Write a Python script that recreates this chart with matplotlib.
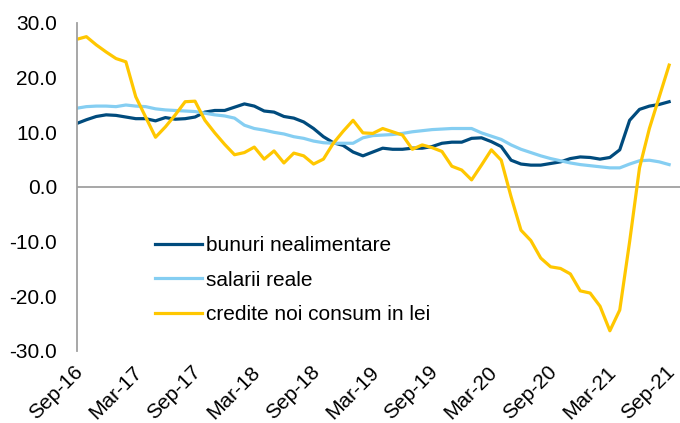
import matplotlib
matplotlib.use("Agg")
import matplotlib.pyplot as plt
import matplotlib.transforms as mtransforms
import numpy as np

plt.rcParams["font.family"] = ["Liberation Sans", "DejaVu Sans"]

# monthly, Sep-16 .. Sep-21
tick_labels = ["Sep-16", "Mar-17", "Sep-17", "Mar-18", "Sep-18", "Mar-19",
               "Sep-19", "Mar-20", "Sep-20", "Mar-21", "Sep-21"]

bunuri = [11.6, 12.3, 12.9, 13.2, 13.1, 12.8, 12.5, 12.5, 12.1, 12.7,
          12.4, 12.5, 12.8, 13.7, 14.0, 14.0, 14.6, 15.2, 14.8, 13.9,
          13.7, 12.9, 12.6, 11.9, 10.7, 9.2, 8.1, 7.6, 6.4, 5.7,
          6.4, 7.1, 6.9, 6.9, 7.1, 7.1, 7.4, 8.0, 8.2, 8.2,
          8.9, 9.0, 8.3, 7.4, 4.9, 4.2, 4.0, 4.0, 4.3, 4.6,
          5.2, 5.5, 5.4, 5.1, 5.4, 6.8, 12.2, 14.2, 14.8, 15.1,
          15.6]

salarii = [14.4, 14.7, 14.8, 14.8, 14.7, 15.0, 14.8, 14.7, 14.3, 14.1,
           14.0, 13.9, 13.8, 13.5, 13.2, 13.0, 12.6, 11.3, 10.7, 10.4,
           10.0, 9.7, 9.2, 8.9, 8.4, 8.1, 8.0, 8.0, 8.0, 9.0,
           9.4, 9.5, 9.6, 9.8, 10.1, 10.3, 10.5, 10.6, 10.7, 10.7,
           10.7, 9.9, 9.3, 8.7, 7.7, 6.9, 6.3, 5.7, 5.2, 4.8,
           4.4, 4.1, 3.9, 3.7, 3.5, 3.5, 4.2, 4.8, 4.9, 4.6,
           4.1]

credite = [27.0, 27.5, 26.0, 24.7, 23.5, 22.9, 16.5, 12.8, 9.1, 11.0,
           13.2, 15.6, 15.7, 12.2, 9.9, 7.8, 5.9, 6.3, 7.3, 5.1,
           6.6, 4.4, 6.2, 5.7, 4.2, 5.1, 8.0, 10.2, 12.2, 9.9,
           9.8, 10.7, 10.1, 9.5, 6.9, 7.7, 7.2, 6.5, 3.8, 3.1,
           1.3, 4.0, 6.8, 4.9, -1.8, -7.9, -9.8, -13.0, -14.6, -14.9,
           -15.9, -19.0, -19.4, -21.8, -26.3, -22.5, -10.0, 3.5, 10.7, 16.5,
           22.3]

x = np.arange(len(bunuri))

fig = plt.figure(figsize=(6.8, 4.23), dpi=100)
ax = fig.add_axes([76.5 / 680, 1 - 351 / 423, (680 - 76.5) / 680, (351 - 23) / 423])

ax.plot(x, bunuri, color="#004B7D", linewidth=2.3, label="bunuri nealimentare")
ax.plot(x, salarii, color="#85CEF2", linewidth=2.3, label="salarii reale")
ax.plot(x, credite, color="#FFC700", linewidth=2.3, label="credite noi consum in lei")

ax.axhline(0, color="#A0A0A0", linewidth=1.3, zorder=0)

ax.set_xlim(0, 61.1)
ax.set_ylim(-30, 30)
ax.set_yticks([-30, -20, -10, 0, 10, 20, 30])
ax.set_yticklabels([f"{v:.1f}" for v in [-30, -20, -10, 0, 10, 20, 30]])
ax.set_xticks(np.arange(0, 61, 6))
ax.set_xticklabels(tick_labels, rotation=45, ha="right", va="center",
                   rotation_mode="anchor")

ax.tick_params(axis="y", length=0, pad=14, labelsize=15)
ax.tick_params(axis="x", length=0, pad=13, labelsize=15)

# small shift to the right so the label tips sit like in the original
shift = mtransforms.ScaledTranslation(3 / 100, 0, fig.dpi_scale_trans)
for lbl in ax.get_xticklabels():
    lbl.set_transform(lbl.get_transform() + shift)

for s in ["top", "right", "bottom"]:
    ax.spines[s].set_visible(False)
ax.spines["left"].set_color("#A0A0A0")
ax.spines["left"].set_linewidth(1.3)

fig.legend(loc="center left", bbox_to_anchor=(155 / 680, 1 - 280 / 423),
           frameon=False, fontsize=15, handlelength=2.25, handletextpad=0.2,
           labelspacing=0.75, borderpad=0, borderaxespad=0)

fig.savefig("out.png", dpi=100)
